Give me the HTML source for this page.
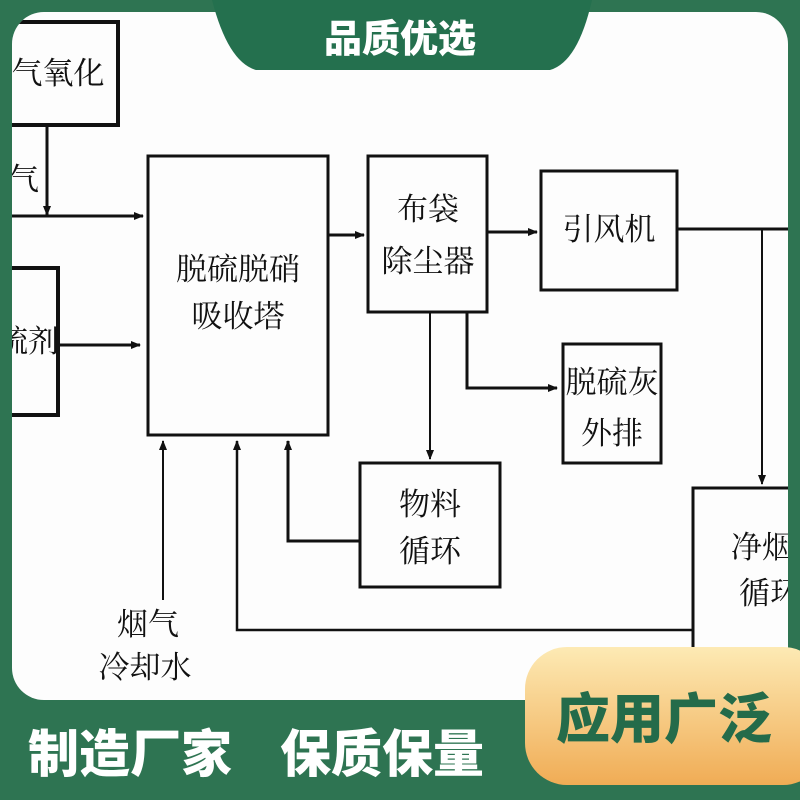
<!DOCTYPE html>
<html><head><meta charset="utf-8"><style>
body{margin:0;width:800px;height:800px;overflow:hidden;background:#2e7452;}
svg{display:block}
</style></head><body>
<svg width="800" height="800" viewBox="0 0 800 800" xmlns="http://www.w3.org/2000/svg">
<defs>
<linearGradient id="og" x1="0" y1="0" x2="0" y2="1"><stop offset="0" stop-color="#fdeab4"/><stop offset="1" stop-color="#f0ac55"/></linearGradient>
<marker id="a" markerWidth="10" markerHeight="8" refX="9" refY="4" orient="auto" markerUnits="userSpaceOnUse"><path d="M0,0 L10,4 L0,8 z" fill="#111"/></marker>
<clipPath id="pc"><rect x="12" y="12" width="776" height="688" rx="32"/></clipPath>
</defs>
<rect width="800" height="800" fill="#2e7452"/>
<rect x="12" y="12" width="776" height="688" rx="32" fill="#fdfdfd"/>
<g clip-path="url(#pc)">
<g fill="none" stroke="#111" stroke-width="3">
<rect x="5" y="22" width="113" height="103" stroke-width="4"/>
<rect x="5" y="268" width="53" height="147" stroke-width="4"/>
<rect x="148" y="156" width="180" height="279"/>
<rect x="368" y="156" width="119" height="156"/>
<rect x="541" y="171" width="136" height="119"/>
<rect x="563" y="344" width="98" height="119"/>
<rect x="360" y="463" width="140" height="124"/>
<rect x="693" y="488" width="120" height="220"/>
</g>
<g stroke="#111" stroke-width="3" fill="none">
<line x1="47" y1="125" x2="47" y2="215" marker-end="url(#a)"/>
<line x1="12" y1="216" x2="143" y2="216" marker-end="url(#a)"/>
<line x1="58" y1="345" x2="140" y2="345" marker-end="url(#a)"/>
<line x1="328" y1="235" x2="364" y2="235" marker-end="url(#a)"/>
<line x1="487" y1="232" x2="537" y2="232" marker-end="url(#a)"/>
<line x1="677" y1="229" x2="800" y2="229"/>
<line x1="762" y1="229" x2="762" y2="484" stroke-width="2" marker-end="url(#a)"/>
<polyline points="467,312 467,388 557,388" marker-end="url(#a)"/>
<line x1="430" y1="312" x2="430" y2="459" stroke-width="2" marker-end="url(#a)"/>
<polyline points="360,541 288,541 288,441" marker-end="url(#a)"/>
<line x1="163" y1="600" x2="163" y2="441" stroke-width="2" marker-end="url(#a)"/>
<polyline points="693,630 237,630 237,441" stroke-width="2.5" marker-end="url(#a)"/>
</g>
<g font-family="'Liberation Serif','Noto Serif CJK SC',serif" font-size="31" fill="#111" text-anchor="middle">
<text x="58" y="84">气氧化</text>
<text x="8" y="190" text-anchor="start">气</text>
<text x="28" y="352">硫剂</text>
<text x="238" y="280">脱硫脱硝</text>
<text x="238" y="327">吸收塔</text>
<text x="428" y="220">布袋</text>
<text x="428" y="272">除尘器</text>
<text x="609" y="240">引风机</text>
<text x="612" y="393">脱硫灰</text>
<text x="612" y="444">外排</text>
<text x="430" y="515">物料</text>
<text x="430" y="562">循环</text>
<text x="148" y="635">烟气</text>
<text x="145" y="678">冷却水</text>
<text x="762" y="558">净烟</text>
<text x="770" y="604">循环</text>
</g>
</g>
<path d="M212,0 L592,0 Q578,62 550,70 L256,70 Q228,62 212,0 z" fill="#24704e"/>
<text x="400" y="52" text-anchor="middle" font-family="'Liberation Sans','Noto Sans CJK SC',sans-serif" font-weight="900" font-size="38" fill="#fff">品质优选</text>
<text x="28" y="772" font-family="'Liberation Sans','Noto Sans CJK SC',sans-serif" font-weight="900" font-size="51" fill="#fff">制造厂家</text>
<text x="280" y="772" font-family="'Liberation Sans','Noto Sans CJK SC',sans-serif" font-weight="900" font-size="51" fill="#fff">保质保量</text>
<rect x="525" y="647" width="300" height="138" rx="42" fill="url(#og)"/>
<text x="664" y="738" text-anchor="middle" font-family="'Liberation Sans','Noto Sans CJK SC',sans-serif" font-weight="900" font-size="54" fill="#246b4a">应用广泛</text>
</svg>
</body></html>
